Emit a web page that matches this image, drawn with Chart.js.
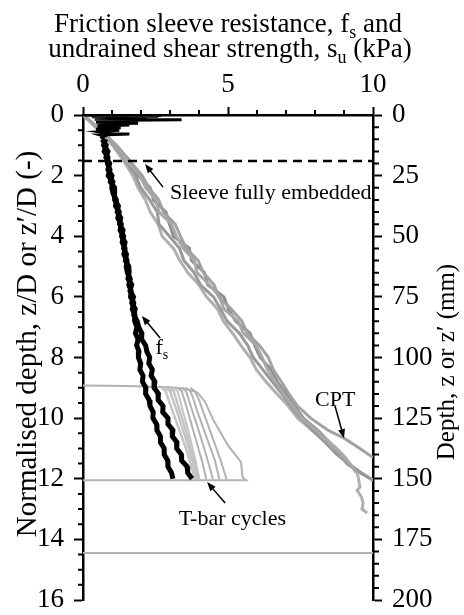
<!DOCTYPE html>
<html>
<head>
<meta charset="utf-8">
<script src="https://cdn.jsdelivr.net/npm/chart.js@4/dist/chart.umd.min.js"></script>
<style>
  html, body { margin: 0; padding: 0; background: #fff; }
  #wrap { position: relative; width: 464px; height: 615px; }
</style>
</head>
<body>
<div id="wrap"><canvas id="chart" width="464" height="615"></canvas></div>
<script>
// depth is normalised z/D (left axis); 1 z/D = 12.5 mm (right axis)
const xTicks = [0, 5, 10];
const zTicks = [0, 2, 4, 6, 8, 10, 12, 14, 16];
const mmTicks = [0, 25, 50, 75, 100, 125, 150, 175, 200];

// friction sleeve resistance fs (kPa), two pushes
const fsSurfaceDepth = [0, 0.01, 0.02, 0.04, 0.06, 0.08, 0.1, 0.12, 0.14, 0.16, 0.18, 0.21, 0.24, 0.27, 0.3, 0.33, 0.37, 0.42, 0.47, 0.5, 0.55, 0.6, 0.63, 0.66, 0.7, 0.75, 0.8];
const fsSurface = [0, 2.7, 0.3, 2.6, 0.3, 2.2, 0.4, 2.0, 0.4, 3.4, 0.5, 1.7, 0.45, 1.9, 0.5, 1.6, 0.5, 1.3, 0.45, 1.25, 0.55, 0.9, 1.6, 0.6, 0.75, 0.65, 0.7];
const fsDepth = [0.8, 1.0, 1.2, 1.4, 1.6, 1.8, 2.0, 2.2, 2.4, 2.6, 2.8, 3.0, 3.2, 3.4, 3.6, 3.8, 4.0, 4.2, 4.4, 4.6, 4.8, 5.0, 5.2, 5.4, 5.6, 5.8, 6.0, 6.2, 6.4, 6.6, 6.8, 7.0, 7.2, 7.4, 7.6, 7.8, 8.0, 8.2, 8.4, 8.6, 8.8, 9.0, 9.2, 9.4, 9.6, 9.8, 10.0, 10.2, 10.4, 10.6, 10.8, 11.0, 11.2, 11.4, 11.6, 11.8, 12.0];
const fsA = [0.66, 0.80, 0.73, 0.86, 0.84, 0.93, 0.87, 1.03, 0.99, 1.04, 1.15, 1.12, 1.25, 1.20, 1.32, 1.28, 1.40, 1.35, 1.45, 1.41, 1.52, 1.49, 1.53, 1.63, 1.58, 1.66, 1.64, 1.75, 1.70, 1.79, 1.78, 1.86, 1.81, 1.90, 1.85, 1.93, 1.91, 1.99, 1.96, 2.07, 2.05, 2.17, 2.16, 2.28, 2.31, 2.42, 2.41, 2.54, 2.55, 2.67, 2.67, 2.80, 2.80, 2.92, 2.93, 3.05, 3.10];
const fsB = [0.78, 0.71, 0.86, 0.79, 0.92, 0.86, 1.00, 0.94, 1.09, 1.10, 1.08, 1.22, 1.18, 1.30, 1.26, 1.38, 1.33, 1.45, 1.40, 1.50, 1.46, 1.58, 1.59, 1.55, 1.68, 1.62, 1.74, 1.68, 1.80, 1.75, 1.87, 1.92, 2.03, 2.02, 2.16, 2.20, 2.30, 2.27, 2.39, 2.35, 2.48, 2.45, 2.60, 2.59, 2.76, 2.75, 2.93, 2.93, 3.10, 3.08, 3.24, 3.23, 3.39, 3.40, 3.59, 3.61, 3.76];

// undrained shear strength su from CPT (kPa): common depths down to 9.6, then each push's tail
const cptDepth = [0, 0.3, 0.6, 1.0, 1.5, 2.0, 2.4, 2.8, 3.2, 3.6, 4.0, 4.4, 4.8, 5.2, 5.6, 6.0, 6.4, 6.8, 7.2, 7.6, 8.0, 8.4, 8.8, 9.2, 9.6];
const cptA = [0, 0.38, 0.72, 1.16, 1.60, 2.04, 2.27, 2.61, 2.77, 3.18, 3.36, 3.56, 3.97, 4.15, 4.52, 4.68, 5.11, 5.48, 5.66, 6.09, 6.39, 6.56, 6.84, 7.10, 7.40];
const cptB = [0, 0.34, 0.66, 1.07, 1.46, 1.82, 1.99, 2.30, 2.56, 2.62, 2.98, 3.33, 3.48, 3.83, 4.05, 4.50, 4.74, 4.97, 5.39, 5.68, 5.87, 6.20, 6.53, 6.86, 7.16];
const cptC = [0, 0.33, 0.63, 1.02, 1.39, 1.72, 1.90, 2.15, 2.32, 2.59, 2.73, 3.12, 3.34, 3.61, 3.99, 4.26, 4.64, 4.84, 5.16, 5.44, 5.76, 5.98, 6.31, 6.69, 7.08];
const cptD = [0, 0.36, 0.71, 1.10, 1.61, 1.91, 2.32, 2.43, 2.86, 2.98, 3.12, 3.67, 3.74, 4.19, 4.30, 4.86, 5.02, 5.26, 5.76, 5.92, 6.11, 6.49, 6.70, 7.00, 7.30];
const cptE = [0, 0.37, 0.69, 1.12, 1.51, 1.97, 2.16, 2.51, 2.62, 3.05, 3.22, 3.46, 3.84, 3.93, 4.36, 4.71, 4.86, 5.35, 5.53, 5.98, 6.18, 6.36, 6.64, 6.91, 7.24];
const tailDepthA = [10.0, 10.4, 10.66, 11.0, 11.3, 11.6];
const tailA = [7.85, 8.45, 9.0, 9.55, 10.0, 10.5];
const tailDepthB = [10.0, 10.4, 10.8, 11.2, 11.5, 11.8, 12.05, 12.3];
const tailB = [7.5, 7.9, 8.35, 8.75, 9.15, 9.6, 10.0, 10.4];
const tailDepthC = [10.0, 10.4, 10.7, 11.0, 11.3, 11.5, 11.8, 12.0, 12.28, 12.38, 12.6, 12.8, 13.0, 13.13];
const tailC = [7.4, 7.9, 8.4, 8.75, 9.05, 9.2, 9.45, 9.5, 9.55, 9.45, 9.6, 9.66, 9.62, 9.8];
const tailDepthD = [10.0, 10.4, 10.8, 11.2, 11.5, 11.8, 12.05, 12.3];
const tailD = [7.6, 8.1, 8.5, 8.85, 9.1, 9.55, 10.0, 10.4];
const tailDepthE = [10.0, 10.4, 10.8, 11.1, 11.5, 11.8];
const tailE = [7.55, 8.05, 8.45, 8.8, 9.2, 9.42];

// T-bar cycles (kPa): outer loop, then the inner cycles
const tbarOuterDepth = [8.92, 8.94, 8.98, 9.02, 9.16, 9.45, 10.07, 10.9, 11.45, 11.95, 12.05, 12.05];
const tbarOuter = [0, 1.5, 3.0, 3.5, 3.95, 4.2, 4.5, 5.0, 5.45, 5.5, 5.62, 0];
const cycleDepth = [9.0, 9.1, 9.4, 9.8, 10.2, 10.6, 11.0, 11.4, 11.8, 12.02];
const cycle1 = [3.7, 3.85, 4.0, 4.15, 4.3, 4.45, 4.6, 4.75, 4.88, 4.95];
const cycle2 = [3.55, 3.7, 3.82, 3.95, 4.1, 4.25, 4.4, 4.55, 4.65, 4.7];
const cycle3 = [3.4, 3.55, 3.65, 3.78, 3.92, 4.05, 4.18, 4.3, 4.42, 4.48];
const cycle4 = [3.25, 3.4, 3.5, 3.62, 3.74, 3.86, 3.98, 4.1, 4.2, 4.25];
const cycle5 = [3.1, 3.25, 3.35, 3.45, 3.57, 3.68, 3.78, 3.88, 3.97, 4.02];
const cycle6 = [2.95, 3.12, 3.22, 3.35, 3.48, 3.6, 3.72, 3.83, 3.92, 3.97];
const cycle7 = [2.8, 3.0, 3.1, 3.25, 3.38, 3.52, 3.65, 3.77, 3.88, 3.92];
const cycle8 = [2.7, 2.85, 2.95, 3.1, 3.25, 3.4, 3.55, 3.68, 3.8, 3.85];

// reference depths (z/D)
const sleeveDepth = 1.52;
const baseDepth = 14.45;

const pts = (xs, ds) => xs.map((v, i) => ({ x: v, y: ds[i] }));
const line = (data, color, width, extra) => Object.assign({
  data, borderColor: color, borderWidth: width, pointRadius: 0,
  showLine: true, fill: false, tension: 0, xAxisID: 'x', yAxisID: 'y'
}, extra || {});
const cpt = (trunk, tail, tailDepth, color) =>
  line(pts(trunk.concat(tail), cptDepth.concat(tailDepth)), color, 3);

const BLACK = '#000';
const SERIF = "'Liberation Serif', 'Times New Roman', serif";

// text pieces: [text, isSubscript], centred on x
function drawRuns(ctx, runs, x, y, size) {
  const sub = Math.round(size * 0.65);
  let w = 0;
  runs.forEach(([t, s]) => {
    ctx.font = (s ? sub : size) + 'px ' + SERIF;
    w += ctx.measureText(t).width;
  });
  let cx = x - w / 2;
  runs.forEach(([t, s]) => {
    ctx.font = (s ? sub : size) + 'px ' + SERIF;
    ctx.fillText(t, cx, s ? y + size * 0.22 : y);
    cx += ctx.measureText(t).width;
  });
}

function arrow(ctx, x0, y0, x1, y1) {
  const ang = Math.atan2(y1 - y0, x1 - x0);
  const c = Math.cos(ang), s = Math.sin(ang);
  ctx.beginPath();
  ctx.moveTo(x0, y0);
  ctx.lineTo(x1 - 5 * c, y1 - 5 * s);
  ctx.stroke();
  ctx.beginPath();
  ctx.moveTo(x1, y1);
  ctx.lineTo(x1 - 9 * c + 3.5 * s, y1 - 9 * s - 3.5 * c);
  ctx.lineTo(x1 - 9 * c - 3.5 * s, y1 - 9 * s + 3.5 * c);
  ctx.closePath();
  ctx.fill();
}

// callouts in data units: arrow tail -> tip
const arrows = [
  [2.76, 2.38, 2.14, 1.62],
  [2.66, 7.36, 2.03, 6.63],
  [8.69, 9.6, 9.0, 10.66],
  [4.9, 12.8, 4.28, 12.11]
];

const decor = {
  id: 'decor',
  afterDraw(chart) {
    const { ctx, chartArea: a, scales: { x, y, y2 } } = chart;
    ctx.save();
    // minor ticks
    ctx.strokeStyle = BLACK;
    ctx.lineWidth = 2;
    ctx.beginPath();
    for (let v = 1; v < 10; v++) {
      if (v % 5 === 0) continue;
      const px = x.getPixelForValue(v);
      ctx.moveTo(px, a.top); ctx.lineTo(px, a.top - 5);
    }
    for (let v = 0.5; v < 16; v += 0.5) {
      if (v % 2 === 0) continue;
      const py = y.getPixelForValue(v);
      ctx.moveTo(a.left, py); ctx.lineTo(a.left - 5, py);
    }
    for (let v = 5; v < 200; v += 5) {
      if (v % 25 === 0) continue;
      const py = y2.getPixelForValue(v);
      ctx.moveTo(a.right, py); ctx.lineTo(a.right + 6, py);
    }
    ctx.stroke();

    // callout arrows
    ctx.lineWidth = 1.5;
    ctx.fillStyle = BLACK;
    arrows.forEach(([x0, y0, x1, y1]) => arrow(ctx,
      x.getPixelForValue(x0), y.getPixelForValue(y0),
      x.getPixelForValue(x1), y.getPixelForValue(y1)));

    // callout labels
    ctx.textBaseline = 'alphabetic';
    ctx.textAlign = 'left';
    ctx.font = '22px ' + SERIF;
    ctx.fillText('Sleeve fully embedded', x.getPixelForValue(3.0), y.getPixelForValue(2.54) + 7);
    ctx.fillText('CPT', x.getPixelForValue(8.0), y.getPixelForValue(9.37) + 7);
    ctx.fillText('T-bar cycles', x.getPixelForValue(3.3), y.getPixelForValue(13.3) + 7);
    drawRuns(ctx, [['f', false], ['s', true]], x.getPixelForValue(2.72), y.getPixelForValue(7.9), 22);

    // titles
    drawRuns(ctx, [['Friction sleeve resistance, f', false], ['s', true], [' and', false]], 228, 32, 27);
    drawRuns(ctx, [['undrained shear strength, s', false], ['u', true], [' (kPa)', false]], 230, 57, 27);

    ctx.textAlign = 'center';
    ctx.textBaseline = 'middle';
    ctx.save();
    ctx.translate(28, 344);
    ctx.rotate(-Math.PI / 2);
    ctx.font = '29px ' + SERIF;
    ctx.fillText('Normalised depth, z/D or z\u2032/D (-)', 0, 0);
    ctx.restore();

    ctx.save();
    ctx.translate(447, 362);
    ctx.rotate(-Math.PI / 2);
    ctx.font = '25px ' + SERIF;
    ctx.fillText('Depth, z or z\u2032 (mm)', 0, 0);
    ctx.restore();

    ctx.restore();
  }
};

const tickFont = { family: SERIF, size: 27 };
const axisBorder = { display: true, color: BLACK, width: 2.5 };
const noPad = s => { s.paddingTop = 0; s.paddingBottom = 0; };

new Chart(document.getElementById('chart'), {
  type: 'scatter',
  data: {
    datasets: [
      line(pts(fsSurface, fsSurfaceDepth), BLACK, 3),
      line(pts(fsA, fsDepth), BLACK, 5),
      line(pts(fsB, fsDepth), BLACK, 5),
      line(pts([0, 10], [sleeveDepth, sleeveDepth]), BLACK, 2.5, { borderDash: [9, 6] }),
      line(pts(cycle1, cycleDepth), '#b2b2b2', 2),
      line(pts(cycle2, cycleDepth), '#b2b2b2', 2),
      line(pts(cycle3, cycleDepth), '#b2b2b2', 2),
      line(pts(cycle4, cycleDepth), '#b2b2b2', 2),
      line(pts(cycle5, cycleDepth), '#c4c4c4', 2),
      line(pts(cycle6, cycleDepth), '#c4c4c4', 2.5),
      line(pts(cycle7, cycleDepth), '#c4c4c4', 2.5),
      line(pts(cycle8, cycleDepth), '#c4c4c4', 2.5),
      line(pts(tbarOuter, tbarOuterDepth), '#b2b2b2', 2),
      line(pts([0, 10], [baseDepth, baseDepth]), '#b2b2b2', 2),
      cpt(cptA, tailA, tailDepthA, '#a2a2a2'),
      cpt(cptE, tailE, tailDepthE, '#a8a8a8'),
      cpt(cptB, tailB, tailDepthB, '#9a9a9a'),
      cpt(cptC, tailC, tailDepthC, '#b0b0b0'),
      cpt(cptD, tailD, tailDepthD, '#8e8e8e')
    ]
  },
  options: {
    responsive: false,
    animation: false,
    devicePixelRatio: 1,
    layout: { padding: { left: 0, right: 0, top: 0, bottom: 15 } },
    plugins: { legend: { display: false }, tooltip: { enabled: false } },
    scales: {
      x: {
        type: 'linear', position: 'top', min: 0, max: 10,
        afterBuildTicks: s => { s.ticks = xTicks.map(v => ({ value: v })); },
        afterFit: s => { s.height = 115; s.paddingLeft = 0; s.paddingRight = 0; },
        ticks: { font: tickFont, color: BLACK, padding: 6 },
        grid: { drawOnChartArea: false, tickLength: 8, tickWidth: 2, tickColor: BLACK },
        border: axisBorder
      },
      y: {
        type: 'linear', position: 'left', reverse: true, min: 0, max: 16,
        afterBuildTicks: s => { s.ticks = zTicks.map(v => ({ value: v })); },
        afterFit: s => { s.width = 83; noPad(s); },
        ticks: { font: tickFont, color: BLACK, padding: 10 },
        grid: { drawOnChartArea: false, tickLength: 9, tickWidth: 2, tickColor: BLACK },
        border: axisBorder
      },
      y2: {
        type: 'linear', position: 'right', reverse: true, min: 0, max: 200,
        afterBuildTicks: s => { s.ticks = mmTicks.map(v => ({ value: v })); },
        afterFit: s => { s.width = 91; noPad(s); },
        ticks: { font: tickFont, color: BLACK, padding: 10 },
        grid: { drawOnChartArea: false, tickLength: 9, tickWidth: 2, tickColor: BLACK },
        border: axisBorder
      }
    }
  },
  plugins: [decor]
});
</script>
</body>
</html>
